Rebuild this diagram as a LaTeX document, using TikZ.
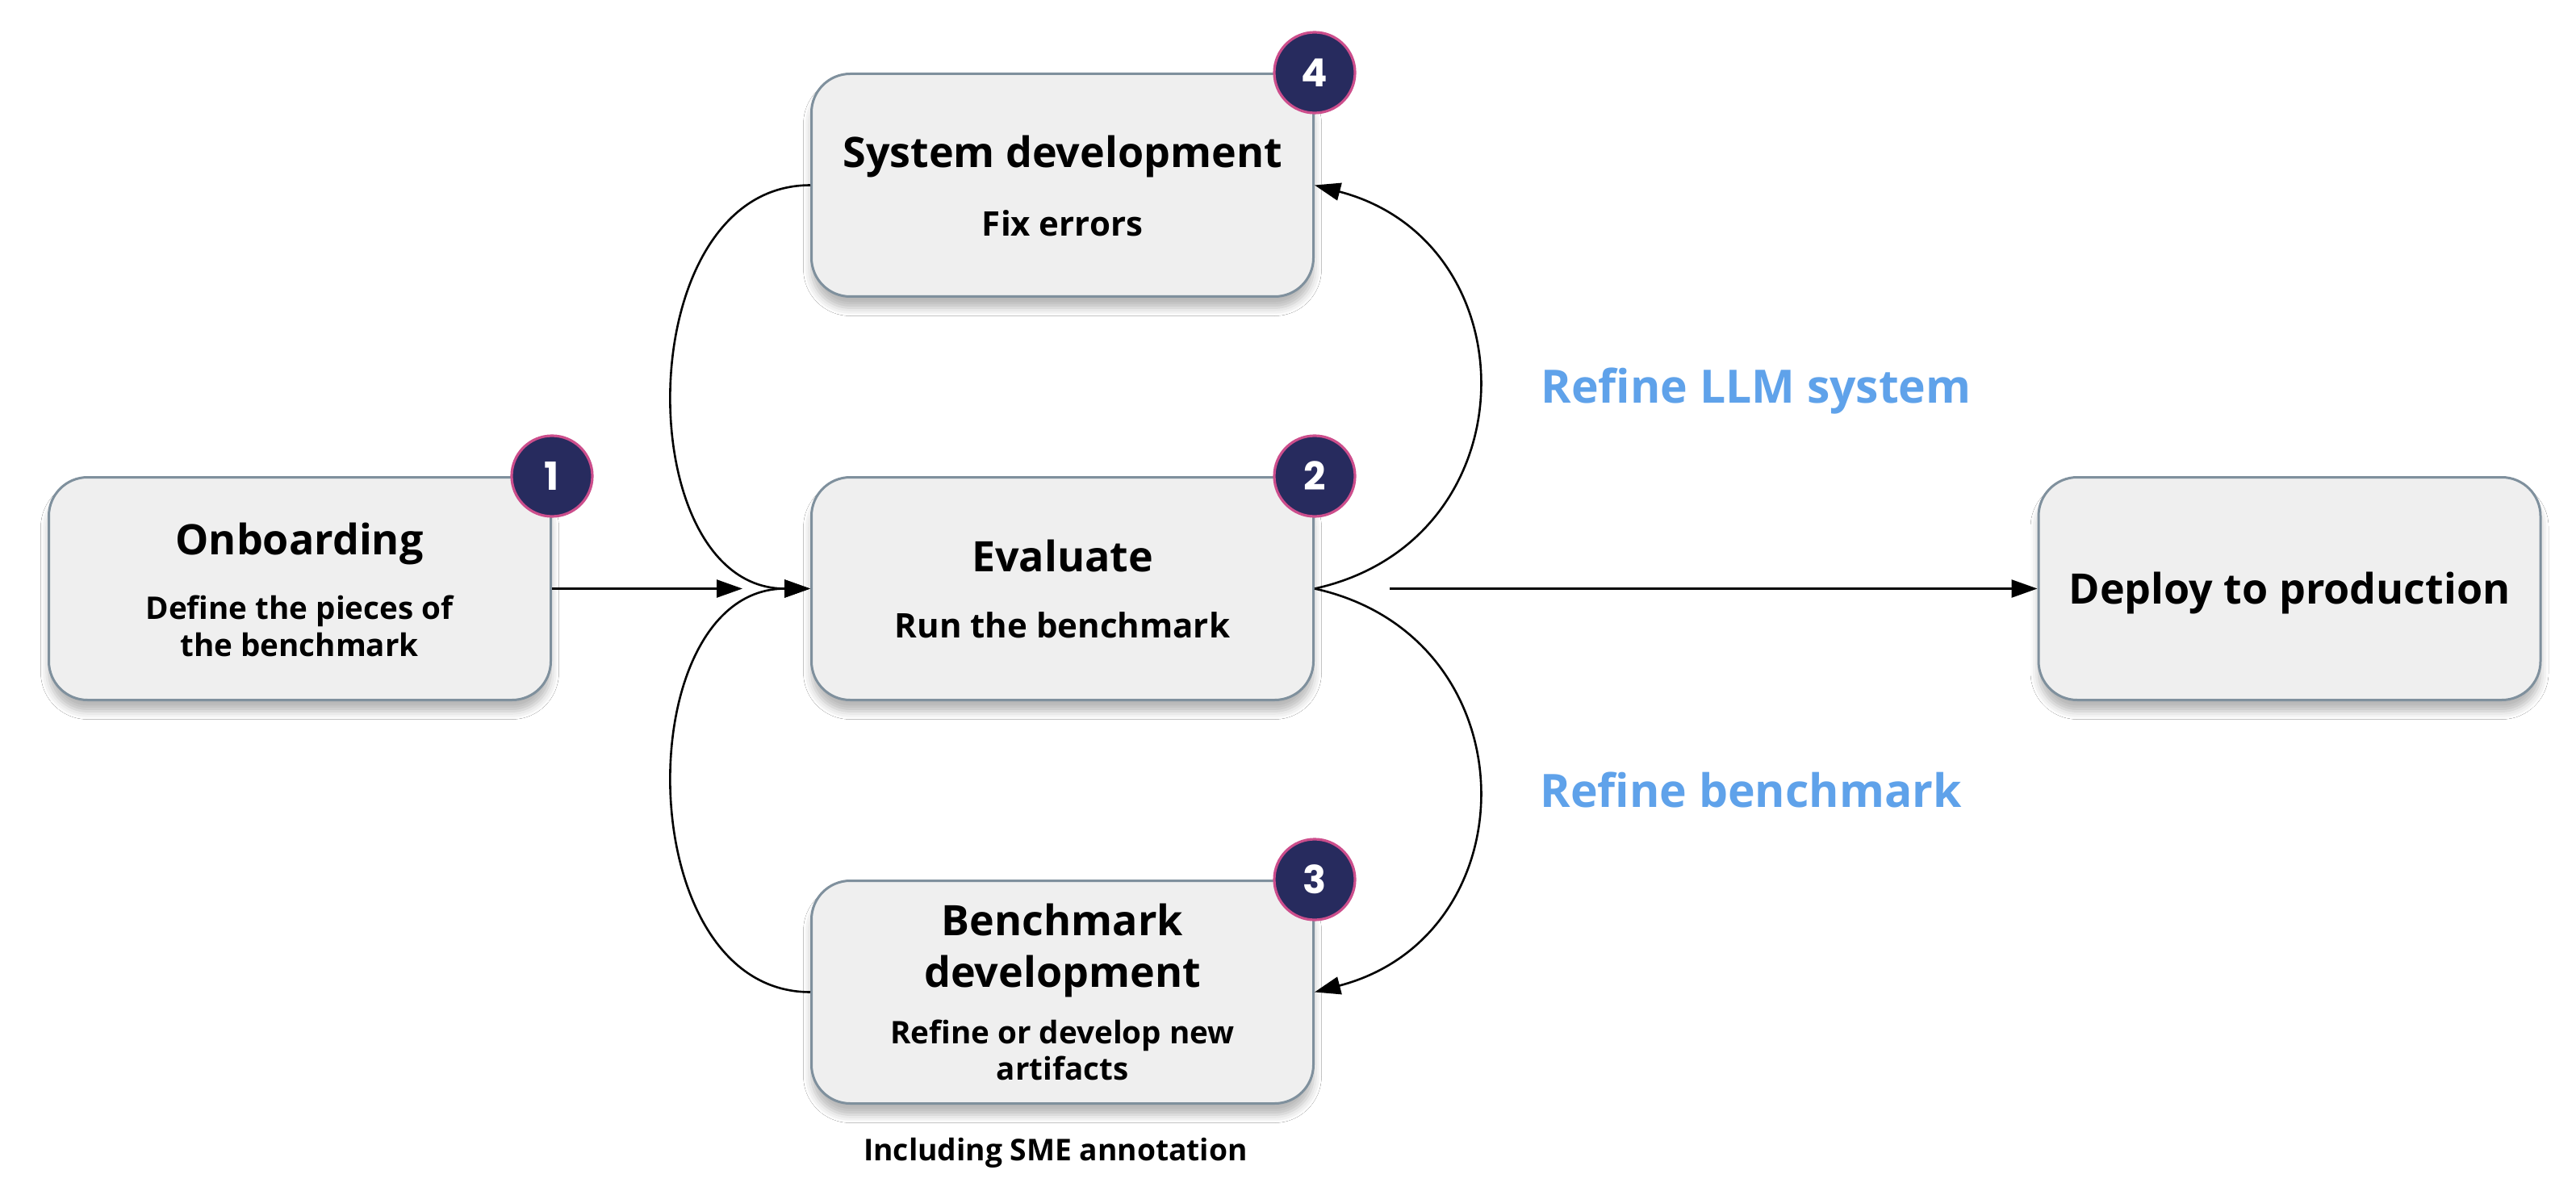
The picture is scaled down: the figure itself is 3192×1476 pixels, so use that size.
\documentclass[tikz,border=0pt]{standalone}
\usepackage{fontspec}
\setmainfont{Open Sans}
\newfontfamily\badgefont{Poppins}
\usetikzlibrary{arrows.meta,shadows.blur}
\definecolor{boxfill}{HTML}{EFEFEF}
\definecolor{boxline}{HTML}{7F909D}
\definecolor{badgefill}{HTML}{272B5E}
\definecolor{badgering}{HTML}{CC4E8C}
\definecolor{labelblue}{HTML}{5FA2EA}
\tikzset{
  box/.style={draw=boxline, line width=1.5pt, fill=boxfill, rounded corners=24pt,
    minimum width=311pt, minimum height=138pt, inner sep=0pt,
    blur shadow={shadow xshift=0pt, shadow yshift=-7pt, shadow blur radius=5pt, shadow opacity=28}},
  badge/.style={circle, fill=badgefill, draw=badgering, line width=1.6pt,
    minimum size=50pt, inner sep=0pt, text=white, font=\badgefont\bfseries\fontsize{24}{24}\selectfont},
  title/.style={anchor=base, inner sep=0pt, font=\bfseries\fontsize{26}{30}\selectfont},
  sub/.style={anchor=base, inner sep=0pt, font=\bfseries\fontsize{19.3}{23}\selectfont},
  subl/.style={anchor=base, inner sep=0pt, font=\bfseries\fontsize{21}{25}\selectfont},
  lbl/.style={anchor=base west, inner sep=0pt, text=labelblue, font=\bfseries\fontsize{28.5}{32}\selectfont},
  note/.style={anchor=base, inner sep=0pt, font=\bfseries\fontsize{18.6}{22}\selectfont},
  conn/.style={draw=black, line width=1.3pt, -{Triangle[length=16pt,width=11pt]}},
}
\begin{document}
\begin{tikzpicture}[x=0.5pt,y=-0.5pt]
\useasboundingbox[fill=white] (0,0) rectangle (3192,1476);
% boxes
\node[box] (onb) at (371.5,729.5) {};
\node[box] (eval) at (1316.5,729.5) {};
\node[box] (sys) at (1316.5,229.5) {};
\node[box] (bench) at (1316.5,1229.5) {};
\node[box] (dep) at (2837,729.5) {};
% texts
\node[title] (onbt) at (371,687) {Onboarding};
\node[sub] (onbs1) at (371,767) {Define the pieces of};
\node[sub] (onbs2) at (371,813) {the benchmark};
\node[title] (evalt) at (1316.5,708) {Evaluate};
\node[subl] (evals) at (1316.5,790) {Run the benchmark};
\node[title] (syst) at (1316.5,208) {System development};
\node[subl] (syss) at (1316.5,293) {Fix errors};
\node[title] (bencht1) at (1316.5,1159) {Benchmark};
\node[title] (bencht2) at (1316.5,1223) {development};
\node[sub] (benchs1) at (1316.5,1293) {Refine or develop new};
\node[sub] (benchs2) at (1316.5,1338) {artifacts};
\node[note] (sme) at (1308,1438) {Including SME annotation};
\node[title] (dept) at (2837,748) {Deploy to production};
\node[lbl] (lblsys) at (1909,500) {Refine LLM system};
\node[lbl] (lblbench) at (1908,1000) {Refine benchmark};
% connectors
\coordinate (onbend) at (920,729.5);
\coordinate (depstart) at (1722,729.5);
\draw[conn] (onb.east) -- (onbend);
\draw[conn] (depstart) -- (dep.west);
\draw[conn] (sys.west) .. controls (778,229.5) and (778,729.5) .. (eval.west);
\draw[conn] (bench.west) .. controls (778,1229.5) and (778,729.5) .. (eval.west);
\draw[conn] (eval.east) .. controls (1899,670) and (1899,300) .. (sys.east);
\draw[conn] (eval.east) .. controls (1899,789) and (1899,1159) .. (bench.east);
% badges
\node[badge] (b1) at (onb.north east) {1};
\node[badge] (b2) at (eval.north east) {2};
\node[badge] (b4) at (sys.north east) {4};
\node[badge] (b3) at (bench.north east) {3};
\end{tikzpicture}
\end{document}
